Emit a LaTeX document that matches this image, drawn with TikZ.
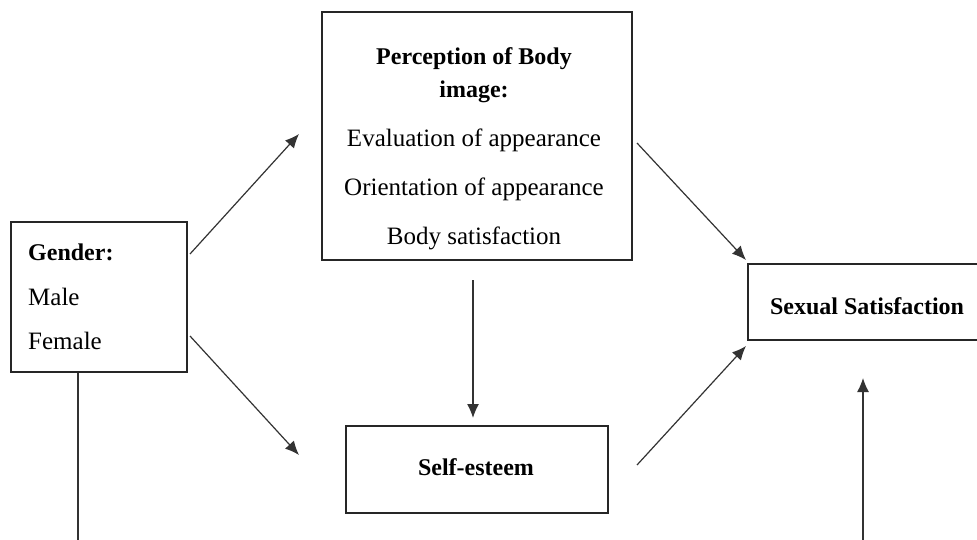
\documentclass[tikz,border=0pt]{standalone}
\usepackage{fontspec}
\setmainfont{Liberation Serif}
\usetikzlibrary{arrows.meta}
\begin{document}
\begin{tikzpicture}[x=1pt,y=-1pt,
  box/.style={draw=black!85, line width=1.2pt, inner sep=0pt},
  txt/.style={inner sep=0pt, font=\fontsize{25}{29}\selectfont},
  btxt/.style={inner sep=0pt, font=\fontsize{24}{28}\selectfont\bfseries},
  arr/.style={draw=black!80, line width=1.2pt, -{Latex[length=14pt,width=12pt]}},
  ln/.style={draw=black!80, line width=1.2pt}]
\useasboundingbox (0,0) rectangle (977,540);
\clip (0,0) rectangle (977,540);
\fill[white] (0,0) rectangle (977,540);
% boxes
\node[box, minimum width=176pt, minimum height=150pt] (gender) at (99,297) {};
\node[box, minimum width=310pt, minimum height=248pt] (body) at (477,136) {};
\node[box, minimum width=262pt, minimum height=87pt] (self) at (477,469.5) {};
\node[box, minimum width=240pt, minimum height=76pt] (sex) at (868,302) {};
% texts
\node[btxt, anchor=base west] (g1) at (28,260) {Gender:};
\node[txt, anchor=base west] (g2) at (28,305) {Male};
\node[txt, anchor=base west] (g3) at (28,349) {Female};
\node[btxt, anchor=base] (b1) at (474,65) {Perception of Body};
\node[btxt, anchor=base] (b2) at (474,98) {image:};
\node[txt, anchor=base] (b3) at (474,147) {Evaluation of appearance};
\node[txt, anchor=base] (b4) at (474,196) {Orientation of appearance};
\node[txt, anchor=base] (b5) at (474,244) {Body satisfaction};
\node[btxt, anchor=base] (s1) at (476,475) {Self-esteem};
\node[btxt, anchor=base] (x1) at (867,314) {Sexual Satisfaction};
% connector end points
\coordinate (gA) at (190,254);
\coordinate (gB) at (190,336);
\coordinate (bIn) at (299,134);
\coordinate (sIn) at (299,455);
\coordinate (bOut) at (637,143);
\coordinate (sOut) at (637,465);
\coordinate (xA) at (746,260);
\coordinate (xB) at (746,346);
\coordinate (bDown) at (473,280);
\coordinate (sTop) at (473,418);
\coordinate (gBot) at (78,545);
\coordinate (xBot) at (863,545);
\coordinate (xUp) at (863,378);
% connectors
\draw[arr] (gA) -- (bIn);
\draw[arr] (gB) -- (sIn);
\draw[arr] (bOut) -- (xA);
\draw[arr] (sOut) -- (xB);
\draw[arr] (bDown) -- (sTop);
\draw[ln] (gender.south -| gBot) -- (gBot);
\draw[arr] (xBot) -- (xUp);
\end{tikzpicture}
\end{document}
